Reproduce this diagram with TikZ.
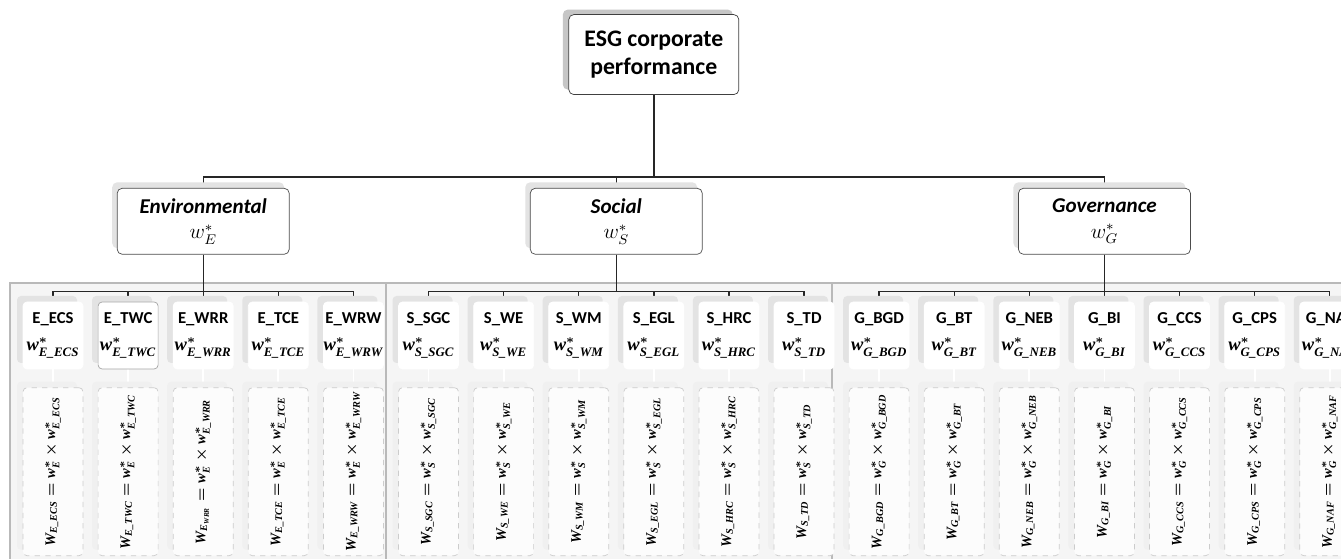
\documentclass[tikz,border=0pt]{standalone}
\usepackage{fontspec}
\setmainfont{Carlito}
\newfontfamily\tms{Liberation Serif}
\usepackage{amsmath}
\usepackage{tikz}
\usetikzlibrary{shadows, positioning, calc}
\pgfdeclarelayer{background}
\pgfsetlayers{background,main}

\newcommand{\bi}{\tms\bfseries\itshape}
\newcommand{\gw}[1]{\text{\bi W}_{\text{\bi #1}}}
\newcommand{\lw}[1]{\text{\bi w}^{*}_{\text{\bi #1}}}
\newcommand{\indic}[2]{#1\\[3pt]{\fontsize{10.5}{12}\selectfont$\lw{#2}$}}

\begin{document}
\begin{tikzpicture}[
  node distance=0.288cm,
  top/.style={rectangle, rounded corners=0.1cm, draw=black!75, fill=white, minimum width=3.4cm, minimum height=1.6cm, align=center, font=\fontsize{13.5}{15.5}\selectfont\bfseries, general shadow={fill=gray!45, shadow xshift=-0.12cm, shadow yshift=0.1cm}},
  pillar/.style={rectangle, rounded corners=0.1cm, draw=black!70, fill=white, minimum width=3.44cm, minimum height=1.32cm, align=center, font=\fontsize{12}{14.5}\selectfont, general shadow={fill=gray!22, shadow xshift=-0.1cm, shadow yshift=0.12cm}},
  item/.style={rectangle, rounded corners=0.08cm, draw=white, fill=white, text width=1.2cm, minimum height=1.34cm, inner sep=0pt, align=center, font=\fontsize{9.5}{12}\selectfont\bfseries\boldmath, general shadow={fill=gray!22, shadow xshift=-0.12cm, shadow yshift=0.12cm}},
  formula/.style={rectangle, rounded corners=0.08cm, draw=gray!40, dashed, fill=gray!2, minimum width=1.2cm, minimum height=3.36cm, inner sep=0pt, font=\fontsize{8.3}{10}\selectfont\boldmath, general shadow={fill=gray!12, shadow xshift=-0.12cm, shadow yshift=0.12cm}},
  panel/.style={draw=gray!55, fill=gray!8, line width=0.7pt},
  link/.style={draw=black!85, line width=0.8pt},
  faint/.style={draw=white, line width=1pt},
]

\useasboundingbox (0,0) rectangle (26.82,11.18);

% Indicators
\node[item] (ecs) at (1.06,4.47) {\indic{E\_ECS}{E\_ECS}};
\node[item, draw=gray!70, right=of ecs] (twc) {\indic{E\_TWC}{E\_TWC}};
\node[item, right=of twc] (wrr) {\indic{E\_WRR}{E\_WRR}};
\node[item, right=of wrr] (tce) {\indic{E\_TCE}{E\_TCE}};
\node[item, right=of tce] (wrw) {\indic{E\_WRW}{E\_WRW}};
\node[item, right=of wrw] (sgc) {\indic{S\_SGC}{S\_SGC}};
\node[item, right=of sgc] (we) {\indic{S\_WE}{S\_WE}};
\node[item, right=of we] (wm) {\indic{S\_WM}{S\_WM}};
\node[item, right=of wm] (egl) {\indic{S\_EGL}{S\_EGL}};
\node[item, right=of egl] (hrc) {\indic{S\_HRC}{S\_HRC}};
\node[item, right=of hrc] (td) {\indic{S\_TD}{S\_TD}};
\node[item, right=of td] (bgd) {\indic{G\_BGD}{G\_BGD}};
\node[item, right=of bgd] (bt) {\indic{G\_BT}{G\_BT}};
\node[item, right=of bt] (neb) {\indic{G\_NEB}{G\_NEB}};
\node[item, right=of neb] (bi) {\indic{G\_BI}{G\_BI}};
\node[item, right=of bi] (ccs) {\indic{G\_CCS}{G\_CCS}};
\node[item, right=of ccs] (cps) {\indic{G\_CPS}{G\_CPS}};
\node[item, right=of cps] (naf) {\indic{G\_NAF}{G\_NAF}};

% Global weights
\node[formula, below=0.36cm of ecs] (fecs) {\rotatebox{90}{$\gw{E\_ECS}=\lw{E}\times\lw{E\_ECS}$}};
\node[formula, below=0.36cm of twc] (ftwc) {\rotatebox{90}{$\gw{E\_TWC}=\lw{E}\times\lw{E\_TWC}$}};
\node[formula, below=0.36cm of wrr] (fwrr) {\rotatebox{90}{$\gw{E\textsubscript{WRR}}=\lw{E}\times\lw{E\_WRR}$}};
\node[formula, below=0.36cm of tce] (ftce) {\rotatebox{90}{$\gw{E\_TCE}=\lw{E}\times\lw{E\_TCE}$}};
\node[formula, below=0.36cm of wrw] (fwrw) {\rotatebox{90}{$\gw{E\_WRW}=\lw{E}\times\lw{E\_WRW}$}};
\node[formula, below=0.36cm of sgc] (fsgc) {\rotatebox{90}{$\gw{S\_SGC}=\lw{S}\times\lw{S\_SGC}$}};
\node[formula, below=0.36cm of we] (fwe) {\rotatebox{90}{$\gw{S\_WE}=\lw{S}\times\lw{S\_WE}$}};
\node[formula, below=0.36cm of wm] (fwm) {\rotatebox{90}{$\gw{S\_WM}=\lw{S}\times\lw{S\_WM}$}};
\node[formula, below=0.36cm of egl] (fegl) {\rotatebox{90}{$\gw{S\_EGL}=\lw{S}\times\lw{S\_EGL}$}};
\node[formula, below=0.36cm of hrc] (fhrc) {\rotatebox{90}{$\gw{S\_HRC}=\lw{S}\times\lw{S\_HRC}$}};
\node[formula, below=0.36cm of td] (ftd) {\rotatebox{90}{$\gw{S\_TD}=\lw{S}\times\lw{S\_TD}$}};
\node[formula, below=0.36cm of bgd] (fbgd) {\rotatebox{90}{$\gw{G\_BGD}=\lw{G}\times\lw{G\_BGD}$}};
\node[formula, below=0.36cm of bt] (fbt) {\rotatebox{90}{$\gw{G\_BT}=\lw{G}\times\lw{G\_BT}$}};
\node[formula, below=0.36cm of neb] (fneb) {\rotatebox{90}{$\gw{G\_NEB}=\lw{G}\times\lw{G\_NEB}$}};
\node[formula, below=0.36cm of bi] (fbi) {\rotatebox{90}{$\gw{G\_BI}=\lw{G}\times\lw{G\_BI}$}};
\node[formula, below=0.36cm of ccs] (fccs) {\rotatebox{90}{$\gw{G\_CCS}=\lw{G}\times\lw{G\_CCS}$}};
\node[formula, below=0.36cm of cps] (fcps) {\rotatebox{90}{$\gw{G\_CPS}=\lw{G}\times\lw{G\_CPS}$}};
\node[formula, below=0.36cm of naf] (fnaf) {\rotatebox{90}{$\gw{G\_NAF}=\lw{G}\times\lw{G\_NAF}$}};

% Pillars
\node[pillar, above=0.94cm of wrr] (env) {\textbf{\textit{Environmental}}\\$w^*_E$};
\node[pillar, above=0.94cm of $(wm.north)!0.5!(egl.north)$] (soc) {\textbf{\textit{Social}}\\$w^*_S$};
\node[pillar, above=0.94cm of bi] (gov) {\textbf{\textit{Governance}}\\$w^*_G$};
\node[top, above=1.86cm of $(env.north)!0.5!(gov.north)$] (esg) {ESG corporate\\performance};

\begin{pgfonlayer}{background}
% Panels
\fill[white] (0,0) rectangle (26.82,11.18);
\draw[panel] (0.2,-0.5) rectangle (7.72,5.52);
\draw[panel] (7.72,-0.5) rectangle (16.64,5.52);
\draw[panel] (16.64,-0.5) rectangle (28,5.52);

% Connections
\draw[link] (esg.south) -- ++(0,-1.64) -| (env.north);
\draw[link] (esg.south) -- ++(0,-1.64) -| (soc.north);
\draw[link] (esg.south) -- ++(0,-1.64) -| (gov.north);
\draw[link] (env.south) -- ++(0,-0.74) -| (ecs.north);
\draw[link] (env.south) -- ++(0,-0.74) -| (twc.north);
\draw[link] (env.south) -- ++(0,-0.74) -| (wrr.north);
\draw[link] (env.south) -- ++(0,-0.74) -| (tce.north);
\draw[link] (env.south) -- ++(0,-0.74) -| (wrw.north);
\draw[link] (soc.south) -- ++(0,-0.74) -| (sgc.north);
\draw[link] (soc.south) -- ++(0,-0.74) -| (we.north);
\draw[link] (soc.south) -- ++(0,-0.74) -| (wm.north);
\draw[link] (soc.south) -- ++(0,-0.74) -| (egl.north);
\draw[link] (soc.south) -- ++(0,-0.74) -| (hrc.north);
\draw[link] (soc.south) -- ++(0,-0.74) -| (td.north);
\draw[link] (gov.south) -- ++(0,-0.74) -| (bgd.north);
\draw[link] (gov.south) -- ++(0,-0.74) -| (bt.north);
\draw[link] (gov.south) -- ++(0,-0.74) -| (neb.north);
\draw[link] (gov.south) -- ++(0,-0.74) -| (bi.north);
\draw[link] (gov.south) -- ++(0,-0.74) -| (ccs.north);
\draw[link] (gov.south) -- ++(0,-0.74) -| (cps.north);
\draw[link] (gov.south) -- ++(0,-0.74) -| (naf.north);
\draw[faint] (ecs) -- (fecs);
\draw[faint] (twc) -- (ftwc);
\draw[faint] (wrr) -- (fwrr);
\draw[faint] (tce) -- (ftce);
\draw[faint] (wrw) -- (fwrw);
\draw[faint] (sgc) -- (fsgc);
\draw[faint] (we) -- (fwe);
\draw[faint] (wm) -- (fwm);
\draw[faint] (egl) -- (fegl);
\draw[faint] (hrc) -- (fhrc);
\draw[faint] (td) -- (ftd);
\draw[faint] (bgd) -- (fbgd);
\draw[faint] (bt) -- (fbt);
\draw[faint] (neb) -- (fneb);
\draw[faint] (bi) -- (fbi);
\draw[faint] (ccs) -- (fccs);
\draw[faint] (cps) -- (fcps);
\draw[faint] (naf) -- (fnaf);
\end{pgfonlayer}

\end{tikzpicture}
\end{document}
